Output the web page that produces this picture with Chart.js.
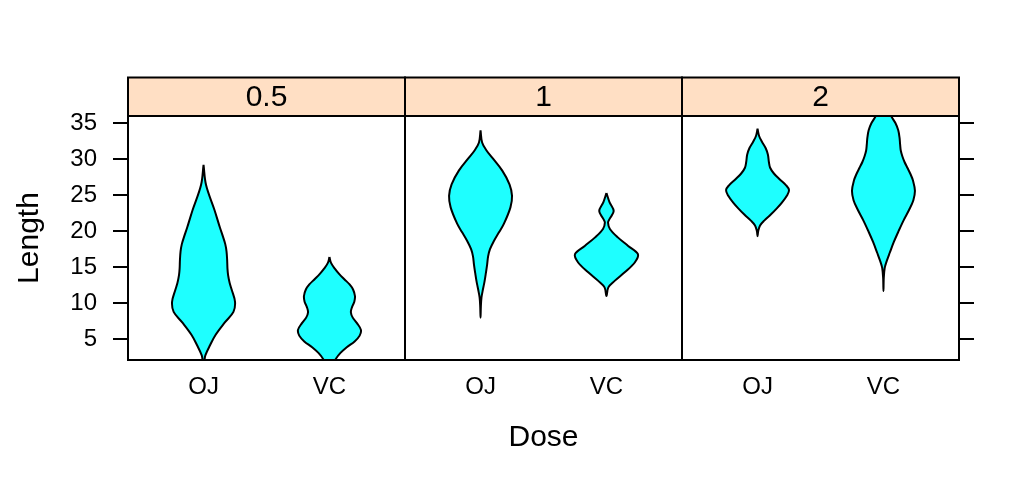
<!DOCTYPE html>
<html lang="en">
<head>
<meta charset="UTF-8">
<title>Length by Dose</title>
<script src="https://cdn.jsdelivr.net/npm/chart.js"></script>
<style>
  body { margin: 0; background: #fff; }
  .wrap { width: 1036px; height: 480px; }
</style>
</head>
<body>
<div class="wrap"><canvas id="chart"></canvas></div>
<script>
let doses = ["0.5", "1", "2"];
let supps = ["OJ", "VC"];
let yTicks = [5, 10, 15, 20, 25, 30, 35];
let yMin = 2.12, yMax = 35.98;

// violin outlines: length and relative half width (1 = widest)
let len05OJ = [29.2, 26.4, 22.9, 20.5, 19.2, 18.2, 17.2, 16.0, 14.8, 13.9, 12.8, 11.8, 10.2, 8.8, 7.3, 5.6, 4.2, 2.8, 2.1, 1.2];
let wid05OJ = [0, 0.08, 0.35, 0.52, 0.62, 0.69, 0.73, 0.75, 0.76, 0.78, 0.83, 0.90, 1.0, 0.95, 0.67, 0.38, 0.21, 0.06, 0.03, 0];
let len05VC = [16.4, 15.6, 14.8, 14.0, 13.3, 12.6, 11.9, 11.0, 10.2, 9.5, 8.75, 8.0, 7.2, 6.3, 5.5, 4.7, 3.9, 3.1, 2.2, 1.2, 0.3];
let wid05VC = [0, 0.05, 0.17, 0.32, 0.48, 0.64, 0.75, 0.81, 0.79, 0.72, 0.68, 0.74, 0.88, 1.0, 0.96, 0.80, 0.55, 0.35, 0.19, 0.07, 0];
let len1OJ = [34.0, 32.3, 31.2, 30.2, 28.4, 26.5, 24.9, 23.3, 21.0, 19.8, 18.6, 17.5, 16.5, 15.4, 14.2, 13.1, 12.0, 10.8, 9.5, 8.0];
let wid1OJ = [0, 0.05, 0.19, 0.37, 0.69, 0.92, 1.0, 0.95, 0.74, 0.58, 0.42, 0.30, 0.24, 0.21, 0.17, 0.13, 0.08, 0.03, 0.01, 0];
let len1VC = [25.3, 24.0, 22.8, 21.7, 21.2, 20.3, 19.1, 17.95, 16.8, 15.65, 14.3, 13.1, 12.2, 11.0];
let wid1VC = [0, 0.10, 0.23, 0.10, 0.05, 0.11, 0.37, 0.69, 1.0, 0.90, 0.58, 0.26, 0.06, 0];
let len2OJ = [34.2, 33.2, 32.4, 31.5, 30.6, 29.6, 28.8, 28.0, 27.2, 26.4, 25.7, 24.9, 24.0, 23.2, 22.3, 21.5, 20.8, 20.0, 19.3];
let wid2OJ = [0, 0.05, 0.14, 0.26, 0.33, 0.36, 0.40, 0.52, 0.70, 0.90, 1.0, 0.93, 0.78, 0.62, 0.42, 0.22, 0.08, 0.02, 0];
let len2VC = [39.5, 38.3, 37.0, 36.0, 35.0, 34.0, 33.0, 32.0, 31.2, 30.4, 29.6, 28.8, 28.0, 27.0, 25.6, 24.3, 23.0, 21.5, 20.0, 18.5, 17.0, 15.8, 14.9, 13.5, 11.7];
let wid2VC = [0, 0.05, 0.14, 0.24, 0.38, 0.47, 0.51, 0.53, 0.55, 0.60, 0.67, 0.76, 0.85, 0.94, 1.0, 0.95, 0.82, 0.64, 0.48, 0.33, 0.20, 0.10, 0.04, 0.01, 0];

let shapes = [
    [len05OJ, wid05OJ], [len05VC, wid05VC],
    [len1OJ, wid1OJ], [len1VC, wid1VC],
    [len2OJ, wid2OJ], [len2VC, wid2VC]
];

let panelWidth = 2.2;   // each panel runs 0.4 .. 2.6 around the two categories
let halfWidth = 0.25;
let stripHeight = 38.5;
let fontFamily = "'Liberation Sans', Arial, sans-serif";

function centreOf(i) {
    return Math.floor(i / 2) * panelWidth + 0.6 + (i % 2);
}

function outline(i) {
    let len = shapes[i][0], wid = shapes[i][1];
    let c = centreOf(i);
    let pts = len.map((v, k) => ({ x: c - wid[k] * halfWidth, y: v }));
    for (let k = len.length - 2; k >= 0; k--) {
        pts.push({ x: c + wid[k] * halfWidth, y: len[k] });
    }
    return pts;
}

let datasets = shapes.map((s, i) => ({
    data: outline(i),
    fill: 'shape',
    backgroundColor: '#1EFFFF',
    borderColor: '#000',
    borderWidth: 2,
    pointRadius: 0,
    tension: 0.35
}));

// strips and panel frames
const panels = {
    id: 'panels',
    afterDatasetsDraw(chart) {
        const { ctx, chartArea: a, scales: { x } } = chart;
        const top = a.top - stripHeight;
        ctx.save();
        ctx.lineWidth = 2;
        ctx.strokeStyle = '#000';
        doses.forEach((d, p) => {
            const l = x.getPixelForValue(p * panelWidth);
            const r = x.getPixelForValue((p + 1) * panelWidth);
            ctx.fillStyle = '#FFDFC4';
            ctx.fillRect(l, top, r - l, stripHeight);
            ctx.strokeRect(l, top, r - l, stripHeight);
            ctx.strokeRect(l, a.top, r - l, a.bottom - a.top);
            ctx.fillStyle = '#000';
            ctx.font = '30px ' + fontFamily;
            ctx.textAlign = 'center';
            ctx.textBaseline = 'middle';
            ctx.fillText(d, (l + r) / 2, top + stripHeight / 2 + 1);
        });
        ctx.restore();
    }
};

let tickGrid = { drawOnChartArea: false, drawTicks: true, tickLength: 15, color: '#000', lineWidth: 2 };

new Chart(document.getElementById('chart'), {
    type: 'line',
    data: { datasets: datasets },
    options: {
        responsive: true,
        maintainAspectRatio: false,
        animation: false,
        layout: { padding: { top: 116, left: 0, right: 0, bottom: 0 } },
        elements: { line: { capBezierPoints: false } },
        plugins: { legend: { display: false }, tooltip: { enabled: false } },
        scales: {
            x: {
                type: 'linear',
                min: 0,
                max: panelWidth * doses.length,
                grid: { display: false, drawTicks: false },
                border: { display: false },
                afterBuildTicks: s => { s.ticks = shapes.map((q, i) => ({ value: centreOf(i) })); },
                afterFit: s => { s.height = 120; },
                ticks: {
                    autoSkip: false,
                    maxRotation: 0,
                    padding: 13,
                    color: '#000',
                    font: { size: 24, family: fontFamily },
                    callback: (v, i) => supps[i % 2]
                },
                title: {
                    display: true,
                    text: 'Dose',
                    color: '#000',
                    font: { size: 30, family: fontFamily },
                    padding: { top: 0, bottom: 24.5 }
                }
            },
            y: {
                type: 'linear',
                position: 'left',
                min: yMin,
                max: yMax,
                grid: tickGrid,
                border: { display: false },
                afterBuildTicks: s => { s.ticks = yTicks.map(v => ({ value: v })); },
                afterFit: s => { s.width = 128; },
                ticks: {
                    padding: 16,
                    color: '#000',
                    font: { size: 24, family: fontFamily }
                },
                title: {
                    display: true,
                    text: 'Length',
                    color: '#000',
                    font: { size: 30, family: fontFamily },
                    padding: { top: 12, bottom: 0 }
                }
            },
            y2: {
                type: 'linear',
                position: 'right',
                min: yMin,
                max: yMax,
                grid: tickGrid,
                border: { display: false },
                afterBuildTicks: s => { s.ticks = yTicks.map(v => ({ value: v })); },
                afterFit: s => { s.width = 77; },
                ticks: { display: false }
            }
        }
    },
    plugins: [panels]
});
</script>
</body>
</html>
